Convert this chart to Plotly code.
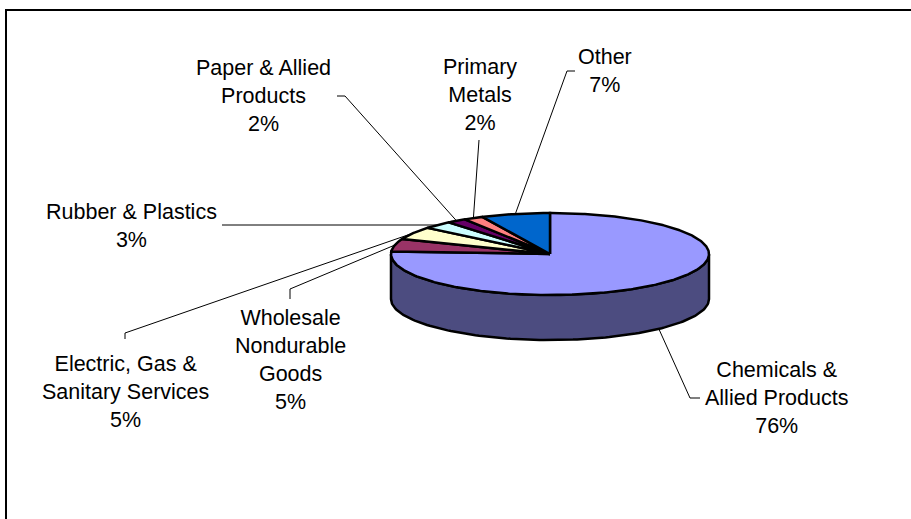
import numpy as np
import plotly.graph_objects as go

# Share of releases by industry sector (percent)
sectors = [
    "Chemicals & Allied Products",
    "Wholesale Nondurable Goods",
    "Electric, Gas & Sanitary Services",
    "Rubber & Plastics",
    "Paper & Allied Products",
    "Primary Metals",
    "Other",
]
shares = [76, 5, 5, 3, 2, 2, 7]
label_lines = [
    "Chemicals &<br>Allied Products",
    "Wholesale<br>Nondurable<br>Goods",
    "Electric, Gas &<br>Sanitary Services",
    "Rubber & Plastics",
    "Paper & Allied<br>Products",
    "Primary<br>Metals",
    "Other",
]
top_colors = ["#9999FF", "#993366", "#FFFFCC", "#CCFFFF", "#660066", "#FF8080", "#0066CC"]
side_colors = ["#4C4C80", "#4C1A33", "#808066", "#668080", "#330033", "#804040", "#003366"]

# Pie geometry in canvas pixels (axes map 1:1 onto the page)
CX, CY, RX, RY, DEPTH = 550, 254, 159, 41, 45
W, H = 911, 519
FONT = dict(family="Liberation Sans, Arial, sans-serif", size=21.5, color="black")

# label centre and leader-line elbows for each sector
label_pos = [(776, 398), (290, 360), (125, 392), (131, 226), (263, 96), (480, 95), (605, 71)]
leader_elbows = [
    [(690, 398), (700, 398)],
    [(290, 289), (290, 299)],
    [(125, 333), (125, 339)],
    [(222, 225)],
    [(345, 96), (337, 96)],
    [(479, 140)],
    [(567, 71), (575, 71)],
]


def ellipse(theta_deg, drop=0.0):
    t = np.radians(theta_deg)
    return CX + RX * np.sin(t), CY - RY * np.cos(t) + drop


total = float(sum(shares))
bounds = np.concatenate([[0.0], np.cumsum(shares) / total * 360.0])

fig = go.Figure()
OUTLINE = dict(color="black", width=2.5)

# visible side wall (front half of the disc)
for i in range(len(shares)):
    a0, a1 = max(bounds[i], 90.0), min(bounds[i + 1], 270.0)
    if a1 <= a0:
        continue
    th = np.linspace(a0, a1, 120)
    tx, ty = ellipse(th)
    bx, by = ellipse(th[::-1], DEPTH)
    fig.add_trace(go.Scatter(
        x=np.concatenate([tx, bx, tx[:1]]), y=np.concatenate([ty, by, ty[:1]]),
        mode="lines", fill="toself", fillcolor=side_colors[i], line=OUTLINE,
        hoverinfo="skip", showlegend=False))

# top faces of the slices
for i in range(len(shares)):
    th = np.linspace(bounds[i], bounds[i + 1], max(8, int(shares[i] * 6)))
    ax, ay = ellipse(th)
    fig.add_trace(go.Scatter(
        x=np.concatenate([[CX], ax, [CX]]), y=np.concatenate([[CY], ay, [CY]]),
        mode="lines", fill="toself", fillcolor=top_colors[i], line=OUTLINE,
        hoverinfo="skip", showlegend=False, name=sectors[i]))

# leader lines and data labels
for i in range(len(shares)):
    mid = (bounds[i] + bounds[i + 1]) / 2.0
    drop = DEPTH if 90.0 < mid < 270.0 else 0.0
    px, py = ellipse(mid, drop)
    xs = [px] + [p[0] for p in leader_elbows[i]]
    ys = [py] + [p[1] for p in leader_elbows[i]]
    fig.add_trace(go.Scatter(x=xs, y=ys, mode="lines",
                             line=dict(color="black", width=1),
                             hoverinfo="skip", showlegend=False))
    pct = round(shares[i] / total * 100)
    fig.add_annotation(x=label_pos[i][0], y=label_pos[i][1],
                       text=f"{label_lines[i]}<br>{pct}%", showarrow=False,
                       xanchor="center", yanchor="middle", align="center", font=FONT)

# chart-area frame
fig.add_shape(type="rect", x0=6, y0=10, x1=W + 10, y1=H + 10,
              line=dict(color="black", width=2), layer="below")

fig.update_layout(
    width=W, height=H, margin=dict(l=0, r=0, t=0, b=0),
    paper_bgcolor="white", plot_bgcolor="white", showlegend=False,
    hovermode=False,
    xaxis=dict(range=[0, W], visible=False, fixedrange=True),
    yaxis=dict(range=[H, 0], visible=False, fixedrange=True),
)

fig.write_html("out.html")
